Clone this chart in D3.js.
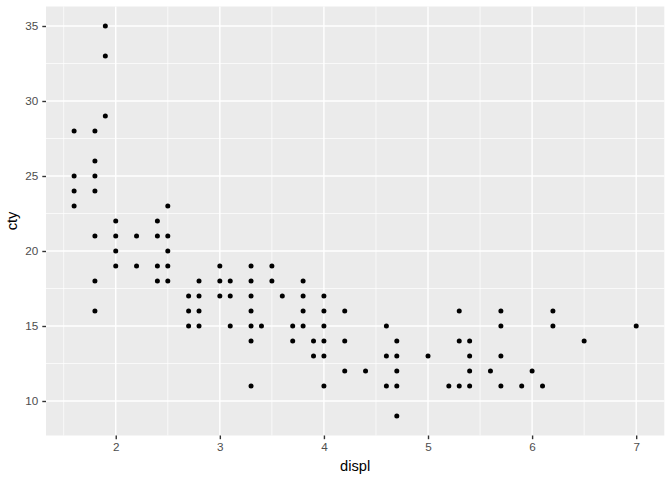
<!DOCTYPE html>
<html><head><meta charset="utf-8">
<script src="https://cdn.jsdelivr.net/npm/d3@7"></script>
<style>body{margin:0;background:#fff}svg{display:block}</style>
</head><body>
<script>
// displ values and their cty values (unique points)
const displ = [1.6,1.6,1.6,1.6, 1.8,1.8,1.8,1.8,1.8,1.8,1.8, 1.9,1.9,1.9, 2.0,2.0,2.0,2.0, 2.2,2.2, 2.4,2.4,2.4,2.4, 2.5,2.5,2.5,2.5,2.5, 2.7,2.7,2.7, 2.8,2.8,2.8,2.8, 3.0,3.0,3.0, 3.1,3.1,3.1, 3.3,3.3,3.3,3.3,3.3,3.3,3.3, 3.4, 3.5,3.5, 3.6, 3.7,3.7, 3.8,3.8,3.8,3.8, 3.9,3.9, 4.0,4.0,4.0,4.0,4.0,4.0, 4.2,4.2,4.2, 4.4, 4.6,4.6,4.6, 4.7,4.7,4.7,4.7,4.7, 5.0, 5.2, 5.3,5.3,5.3, 5.4,5.4,5.4,5.4, 5.6, 5.7,5.7,5.7,5.7, 5.9, 6.0, 6.1, 6.2,6.2, 6.5, 7.0];
const cty   = [28,25,24,23, 28,26,25,24,21,18,16, 35,33,29, 22,21,20,19, 21,19, 22,21,19,18, 23,21,20,19,18, 17,16,15, 18,17,16,15, 19,18,17, 18,17,15, 19,18,17,16,15,14,11, 15, 19,18, 17, 15,14, 18,17,16,15, 14,13, 17,16,15,14,13,11, 16,14,12, 12, 15,13,11, 14,13,12,11,9, 13, 11, 16,14,11, 14,13,12,11, 12, 16,15,13,11, 11, 12, 11, 16,15, 14, 15];
const xTicks = [2,3,4,5,6,7];
const yTicks = [10,15,20,25,30,35];
const xMinor = [1.5,2.5,3.5,4.5,5.5,6.5];
const yMinor = [12.5,17.5,22.5,27.5,32.5];

const W = 672, H = 480;
const L = 46, R = 664.3, T = 6.5, B = 435.5;
const svg = d3.select("body").append("svg").attr("width", W).attr("height", H);
const x = d3.scaleLinear().domain([1.33, 7.27]).range([L, R]);
const y = d3.scaleLinear().domain([7.7, 36.3]).range([B, T]);

svg.append("rect").attr("x", L).attr("y", T).attr("width", R - L).attr("height", B - T).attr("fill", "#EBEBEB");

const g = svg.append("g");
g.selectAll(".xmin").data(xMinor).join("line")
  .attr("x1", d => x(d)).attr("x2", d => x(d)).attr("y1", T).attr("y2", B)
  .attr("stroke", "#fff").attr("stroke-width", 0.7);
g.selectAll(".ymin").data(yMinor).join("line")
  .attr("y1", d => y(d)).attr("y2", d => y(d)).attr("x1", L).attr("x2", R)
  .attr("stroke", "#fff").attr("stroke-width", 0.7);
g.selectAll(".xmaj").data(xTicks).join("line")
  .attr("x1", d => x(d)).attr("x2", d => x(d)).attr("y1", T).attr("y2", B)
  .attr("stroke", "#fff").attr("stroke-width", 1.4);
g.selectAll(".ymaj").data(yTicks).join("line")
  .attr("y1", d => y(d)).attr("y2", d => y(d)).attr("x1", L).attr("x2", R)
  .attr("stroke", "#fff").attr("stroke-width", 1.4);

const pts = displ.map((d, i) => ({ d, c: cty[i] }));
svg.append("g").selectAll("circle").data(pts).join("circle")
  .attr("cx", p => x(p.d)).attr("cy", p => y(p.c)).attr("r", 2.5).attr("fill", "#000");

const xAxis = svg.append("g").attr("transform", `translate(0,${B})`)
  .call(d3.axisBottom(x).tickValues(xTicks).tickSize(3.7).tickPadding(3).tickFormat(d3.format("d")));
const yAxis = svg.append("g").attr("transform", `translate(${L},0)`)
  .call(d3.axisLeft(y).tickValues(yTicks).tickSize(3.7).tickPadding(4).tickFormat(d3.format("d")));
[xAxis, yAxis].forEach(a => {
  a.select(".domain").remove();
  a.selectAll(".tick line").attr("stroke", "#333333").attr("stroke-width", 1.4);
  a.selectAll(".tick text").attr("fill", "#4D4D4D").style("font-family", "Liberation Sans, Arial, sans-serif").style("font-size", "11.7px");
});

svg.append("text").attr("x", (L + R) / 2).attr("y", 471).attr("text-anchor", "middle")
  .style("font-family", "Liberation Sans, Arial, sans-serif").style("font-size", "14.67px").attr("fill", "#000").text("displ");
svg.append("text").attr("transform", `translate(17,${(T + B) / 2}) rotate(-90)`).attr("text-anchor", "middle")
  .style("font-family", "Liberation Sans, Arial, sans-serif").style("font-size", "14.67px").attr("fill", "#000").text("cty");
</script>
</body></html>
